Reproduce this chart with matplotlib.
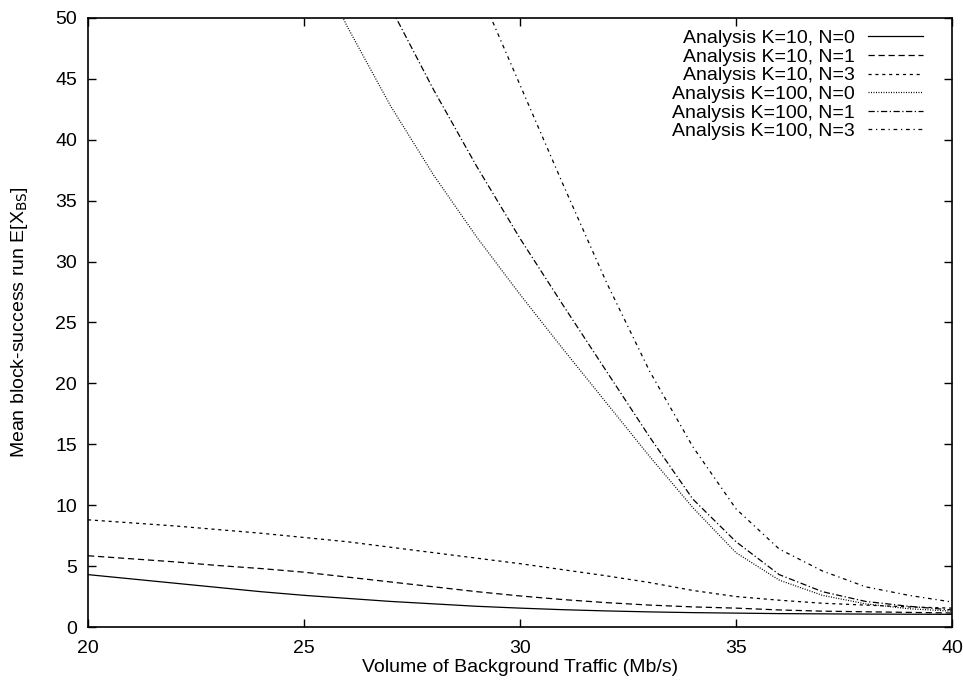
import numpy as np
from matplotlib import pyplot as plt

plt.rcParams['font.family'] = ['Liberation Sans', 'DejaVu Sans']

# Volume of background traffic (Mb/s)
x = list(range(20, 41))

# K=10 curves
k10_n0 = [4.3, 3.95, 3.6, 3.25, 2.9, 2.6, 2.35, 2.1, 1.9, 1.7, 1.55,
          1.42, 1.32, 1.24, 1.18, 1.14, 1.1, 1.08, 1.06, 1.05, 1.04]
k10_n1 = [5.85, 5.6, 5.35, 5.05, 4.8, 4.5, 4.1, 3.7, 3.3, 2.9, 2.55,
          2.25, 2.0, 1.8, 1.65, 1.55, 1.4, 1.3, 1.25, 1.2, 1.15]
k10_n3 = [8.8, 8.55, 8.3, 8.0, 7.7, 7.35, 7.0, 6.55, 6.1, 5.65, 5.2,
          4.7, 4.2, 3.65, 3.0, 2.5, 2.2, 1.95, 1.8, 1.65, 1.55]

# K=100 curves (nan = far above the plotted range)
nan = np.nan
k100_n0 = [nan, nan, nan, nan, nan, 56.5, 49.3, 42.8, 37.1, 32.0, 27.3,
           22.8, 18.4, 14.0, 9.8, 6.1, 3.85, 2.6, 1.9, 1.5, 1.3]
k100_n1 = [nan, nan, nan, nan, nan, nan, 58.0, 50.9, 44.1, 37.8, 31.9,
           26.4, 21.0, 15.6, 10.5, 7.0, 4.3, 2.9, 2.1, 1.7, 1.4]
k100_n3 = [nan, nan, nan, nan, nan, nan, nan, nan, 61.0, 52.7, 44.5,
           36.3, 28.3, 21.0, 14.8, 9.7, 6.4, 4.6, 3.3, 2.6, 2.05]

fig = plt.figure(figsize=(9.63, 6.86), dpi=100)
ax = fig.add_axes([0.0914, 0.086, 0.8972, 0.8878])

ax.plot(x, k10_n0, color="black", lw=0.9, label="Analysis K=10, N=0")
ax.plot(x, k10_n1, color="black", lw=0.9, dashes=(5, 3), label="Analysis K=10, N=1")
ax.plot(x, k10_n3, color="black", lw=0.9, dashes=(2.5, 3), label="Analysis K=10, N=3")
ax.plot(x, k100_n0, color="black", lw=0.9, dashes=(0.8, 1.2), label="Analysis K=100, N=0")
ax.plot(x, k100_n1, color="black", lw=0.9, dashes=(5, 2, 1, 2), label="Analysis K=100, N=1")
ax.plot(x, k100_n3, color="black", lw=0.9, dashes=(3, 3, 1, 3), label="Analysis K=100, N=3")

ax.set_xlim(20, 40)
ax.set_ylim(0, 50)
ax.set_xticks([20, 25, 30, 35, 40])
ax.set_yticks(range(0, 51, 5))
ax.tick_params(direction="in", top=True, right=True, length=6, width=1, labelsize=14)
ax.tick_params(axis="y", pad=8)
ax.tick_params(axis="x", pad=9)
for s in ax.spines.values():
    s.set_linewidth(1.2)

ax.set_xlabel("Volume of Background Traffic (Mb/s)", fontsize=14, labelpad=2)
ax.set_ylabel("Mean block-success run E[X$_{\\rm BS}$]", fontsize=14, labelpad=18)

ax.legend(loc="upper right", frameon=False, markerfirst=False, fontsize=14,
          handlelength=2.85, labelspacing=0.05, handletextpad=0.65,
          borderaxespad=0.2, bbox_to_anchor=(0.98, 1.0))

fig.savefig("out.png", dpi=100)
